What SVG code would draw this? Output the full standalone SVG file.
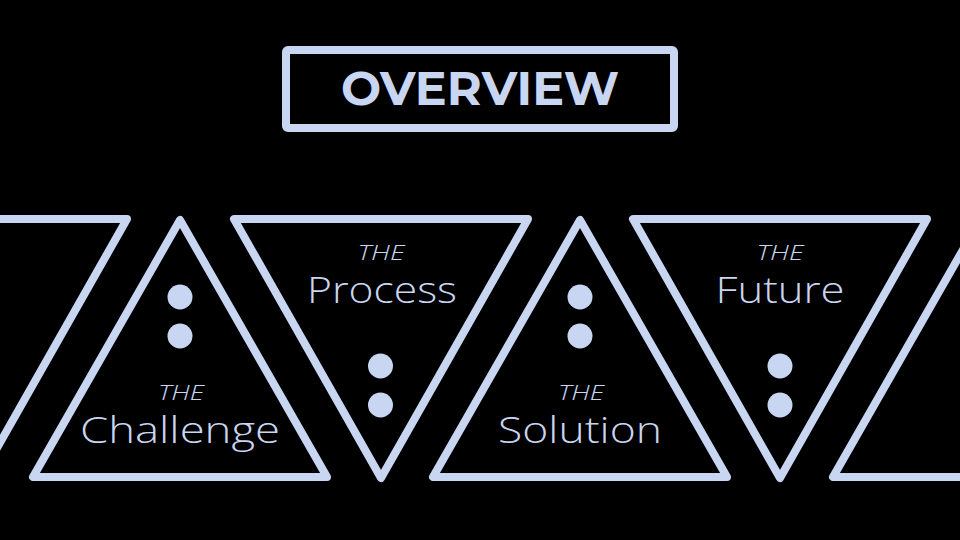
<svg xmlns="http://www.w3.org/2000/svg" width="960" height="540" viewBox="0 0 960 540">
<style>
.sh{fill:none;stroke:#c9d6f2;stroke-width:8;stroke-linejoin:round}
.dot{fill:#c9d6f2}
.the{font-family:"Open Sans","Liberation Sans",sans-serif;font-style:italic;font-weight:300;font-size:20px;fill:#c9d6f2;text-anchor:middle}
.lbl{font-family:"Open Sans","Liberation Sans",sans-serif;font-weight:300;font-size:37px;fill:#c9d6f2;text-anchor:middle}
.ttl{font-family:"Montserrat","Liberation Sans",sans-serif;font-weight:700;font-size:48px;fill:#c9d6f2;text-anchor:middle}
</style>
<rect width="960" height="540" fill="#000"/>
<g id="title">
<rect class="sh" x="286" y="50" width="388" height="78" rx="2"/>
<text class="ttl" x="480" y="105" textLength="278" lengthAdjust="spacingAndGlyphs">OVERVIEW</text>
</g>
<g id="left-partial">
<polygon class="sh" points="-167,219 127,219 -20,478"/>
</g>
<g id="challenge">
<polygon class="sh" points="180,220 33,477 327,477"/>
<circle class="dot" cx="180" cy="297" r="12.5"/>
<circle class="dot" cx="180" cy="336" r="12.5"/>
<text class="the" x="181" y="400" textLength="46" lengthAdjust="spacingAndGlyphs">THE</text>
<text class="lbl" x="180" y="443" textLength="200" lengthAdjust="spacingAndGlyphs">Challenge</text>
</g>
<g id="process">
<polygon class="sh" points="234,219 528,219 381,478"/>
<text class="the" x="381" y="260" textLength="47" lengthAdjust="spacingAndGlyphs">THE</text>
<text class="lbl" x="382" y="303" textLength="150" lengthAdjust="spacingAndGlyphs">Process</text>
<circle class="dot" cx="380.5" cy="366" r="12.5"/>
<circle class="dot" cx="380.5" cy="405" r="12.5"/>
</g>
<g id="solution">
<polygon class="sh" points="580,220 433,477 727,477"/>
<circle class="dot" cx="580" cy="297" r="12.5"/>
<circle class="dot" cx="580" cy="336" r="12.5"/>
<text class="the" x="581" y="400" textLength="46" lengthAdjust="spacingAndGlyphs">THE</text>
<text class="lbl" x="580" y="443" textLength="164" lengthAdjust="spacingAndGlyphs">Solution</text>
</g>
<g id="future">
<polygon class="sh" points="633,219 927,219 780,478"/>
<text class="the" x="780" y="260" textLength="47" lengthAdjust="spacingAndGlyphs">THE</text>
<text class="lbl" x="780" y="303" textLength="129" lengthAdjust="spacingAndGlyphs">Future</text>
<circle class="dot" cx="780" cy="366" r="12.5"/>
<circle class="dot" cx="780" cy="405" r="12.5"/>
</g>
<g id="right-partial">
<polygon class="sh" points="980,220 833,477 1127,477"/>
</g>
<g id="connectors"/>
</svg>
